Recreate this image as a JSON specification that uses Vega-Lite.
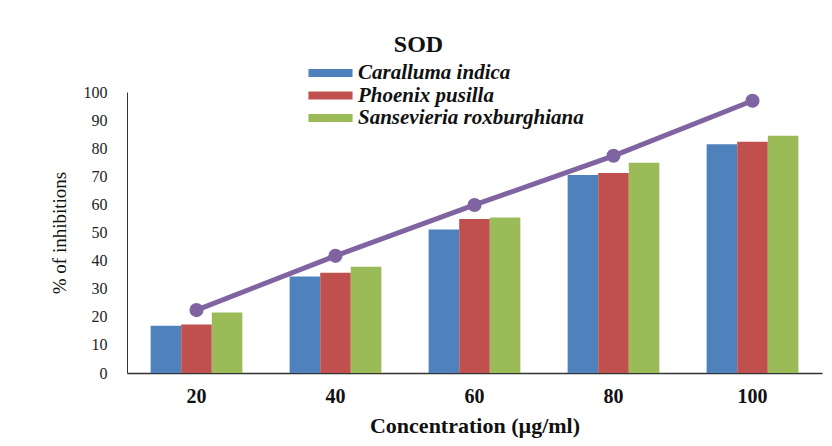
{
  "$schema": "https://vega.github.io/schema/vega-lite/v6.json",
  "width": 695,
  "height": 281,
  "autosize": {"type": "none"},
  "padding": {"left": 127, "top": 92, "right": 10, "bottom": 73},
  "background": "white",
  "title": {
    "text": "SOD",
    "font": "Liberation Serif",
    "fontSize": 24,
    "fontWeight": "bold",
    "color": "#111",
    "anchor": "middle",
    "dx": -56,
    "offset": 6
  },
  "datasets": {
    "bars": [
      {"conc": "20", "species": "Caralluma indica", "value": 16.8},
      {"conc": "20", "species": "Phoenix pusilla", "value": 17.3},
      {"conc": "20", "species": "Sansevieria roxburghiana", "value": 21.5},
      {"conc": "40", "species": "Caralluma indica", "value": 34.3},
      {"conc": "40", "species": "Phoenix pusilla", "value": 35.7},
      {"conc": "40", "species": "Sansevieria roxburghiana", "value": 37.8},
      {"conc": "60", "species": "Caralluma indica", "value": 51.1},
      {"conc": "60", "species": "Phoenix pusilla", "value": 54.8},
      {"conc": "60", "species": "Sansevieria roxburghiana", "value": 55.3},
      {"conc": "80", "species": "Caralluma indica", "value": 70.5},
      {"conc": "80", "species": "Phoenix pusilla", "value": 71.2},
      {"conc": "80", "species": "Sansevieria roxburghiana", "value": 74.8},
      {"conc": "100", "species": "Caralluma indica", "value": 81.4},
      {"conc": "100", "species": "Phoenix pusilla", "value": 82.3},
      {"conc": "100", "species": "Sansevieria roxburghiana", "value": 84.4}
    ],
    "line": [
      {"conc": "20", "value": 22.4},
      {"conc": "40", "value": 41.7},
      {"conc": "60", "value": 59.8},
      {"conc": "80", "value": 77.3},
      {"conc": "100", "value": 96.9}
    ]
  },
  "config": {
    "view": {"stroke": null},
    "font": "Liberation Serif"
  },
  "encoding": {
    "x": {
      "field": "conc",
      "type": "nominal",
      "sort": ["20", "40", "60", "80", "100"],
      "scale": {"paddingInner": 0.34, "paddingOuter": 0.17},
      "axis": {
        "title": "Concentration (µg/ml)",
        "titleFont": "Liberation Serif",
        "titleFontSize": 22,
        "titleFontWeight": "bold",
        "titleColor": "#111",
        "titlePadding": 9,
        "labelFont": "Liberation Serif",
        "labelFontSize": 20,
        "labelFontWeight": "bold",
        "labelColor": "#111",
        "labelAngle": 0,
        "labelPadding": 13,
        "ticks": false,
        "domainColor": "#333",
        "domainWidth": 1.5
      }
    },
    "y": {
      "field": "value",
      "type": "quantitative",
      "scale": {"domain": [0, 100]},
      "axis": {
        "title": "% of inhibitions",
        "titleFont": "Liberation Serif",
        "titleFontSize": 19,
        "titleFontWeight": "normal",
        "titleColor": "#111",
        "titlePadding": 14,
        "values": [0, 10, 20, 30, 40, 50, 60, 70, 80, 90, 100],
        "tickCount": 11,
        "labelOverlap": false,
        "labelFont": "Liberation Serif",
        "labelFontSize": 16,
        "labelColor": "#222",
        "labelPadding": 20,
        "ticks": false,
        "grid": false,
        "domainColor": "#333",
        "domainWidth": 1
      }
    }
  },
  "layer": [
    {
      "data": {"name": "bars"},
      "mark": {"type": "bar"},
      "encoding": {
        "xOffset": {
          "field": "species",
          "type": "nominal",
          "scale": {"paddingInner": 0, "paddingOuter": 0}
        },
        "color": {
          "field": "species",
          "type": "nominal",
          "scale": {
            "domain": ["Caralluma indica", "Phoenix pusilla", "Sansevieria roxburghiana"],
            "range": ["#4F81BD", "#C0504D", "#9BBB59"]
          },
          "legend": {
            "title": null,
            "orient": "none",
            "legendX": 193,
            "legendY": -29.5,
            "symbolType": "M-3,-0.544H3V0.544H-3Z",
            "symbolSize": 216,
            "symbolStrokeWidth": 0,
            "symbolOpacity": 1,
            "labelFont": "Liberation Serif",
            "labelFontSize": 21,
            "labelFontStyle": "italic",
            "labelFontWeight": "bold",
            "labelColor": "#111",
            "labelOffset": 17,
            "rowPadding": 0.5,
            "labelLimit": 400
          }
        }
      }
    },
    {
      "data": {"name": "line"},
      "mark": {"type": "line", "color": "#8064A2", "strokeWidth": 5}
    },
    {
      "data": {"name": "line"},
      "mark": {"type": "point", "filled": true, "color": "#8064A2", "size": 200, "opacity": 1}
    }
  ]
}
